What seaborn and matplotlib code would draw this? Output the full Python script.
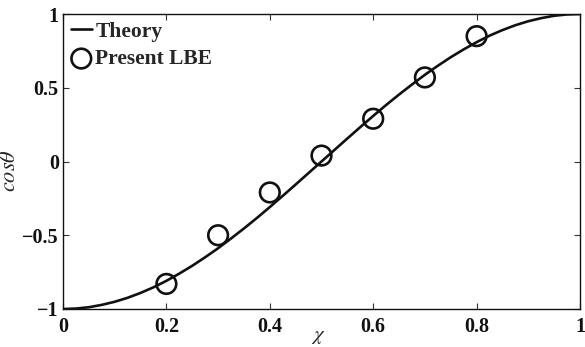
import matplotlib
matplotlib.use("Agg")
import matplotlib.pyplot as plt
import seaborn as sns
import pandas as pd

# Theoretical contact-angle curve
chi_theory = [0.000, 0.025, 0.050, 0.075, 0.100, 0.125, 0.150, 0.175, 0.200, 0.225,
              0.250, 0.275, 0.300, 0.325, 0.350, 0.375, 0.400, 0.425, 0.450, 0.475,
              0.500, 0.525, 0.550, 0.575, 0.600, 0.625, 0.650, 0.675, 0.700, 0.725,
              0.750, 0.775, 0.800, 0.825, 0.850, 0.875, 0.900, 0.925, 0.950, 0.975, 1.000]
cos_theory = [-1.000, -0.997, -0.988, -0.972, -0.951, -0.924, -0.891, -0.853, -0.809, -0.760,
              -0.707, -0.649, -0.588, -0.522, -0.454, -0.383, -0.309, -0.233, -0.156, -0.078,
              0.000, 0.078, 0.156, 0.233, 0.309, 0.383, 0.454, 0.522, 0.588, 0.649,
              0.707, 0.760, 0.809, 0.853, 0.891, 0.924, 0.951, 0.972, 0.988, 0.997, 1.000]

# Simulation results
chi_lbe = [0.2, 0.3, 0.4, 0.5, 0.6, 0.7, 0.8]
cos_lbe = [-0.83, -0.50, -0.21, 0.04, 0.29, 0.57, 0.85]

x_ticks = [0, 0.2, 0.4, 0.6, 0.8, 1]
x_ticklabels = ["0", "0.2", "0.4", "0.6", "0.8", "1"]
y_ticks = [-1, -0.5, 0, 0.5, 1]
y_ticklabels = ["\u22121", "\u22120.5", "0", "0.5", "1"]

sns.set_style("ticks")
plt.rcParams["font.family"] = ["Liberation Serif", "DejaVu Serif"]
plt.rcParams["mathtext.fontset"] = "stix"

theory = pd.DataFrame({"chi": chi_theory, "cos": cos_theory})
lbe = pd.DataFrame({"chi": chi_lbe, "cos": cos_lbe})

fig = plt.figure(figsize=(5.85, 3.47), dpi=100)
ax = fig.add_axes([63 / 585, 1 - 309 / 347, (580 - 63) / 585, (309 - 14) / 347])

sns.lineplot(data=theory, x="chi", y="cos", ax=ax, color="#111111", linewidth=1.9,
             label="Theory")
sns.scatterplot(data=lbe, x="chi", y="cos", ax=ax, marker="o", s=200,
                facecolors="none", edgecolor="#111111", linewidth=1.9,
                label="Present LBE", zorder=3)

ax.set_xlim(0, 1)
ax.set_ylim(-1, 1)
ax.set_xticks(x_ticks)
ax.set_xticklabels(x_ticklabels)
ax.set_yticks(y_ticks)
ax.set_yticklabels(y_ticklabels)
ax.tick_params(axis="both", direction="in", length=4, width=0.8, top=True, right=True,
               labelsize=14.5, color="#333333", labelcolor="#111111")
ax.tick_params(axis="x", pad=6)
ax.tick_params(axis="y", pad=3)
for lab in ax.get_xticklabels() + ax.get_yticklabels():
    lab.set_fontweight("bold")
for sp in ax.spines.values():
    sp.set_linewidth(1.0)
    sp.set_color("#111111")

ax.set_xlabel(r"$\chi$", fontsize=15)
ax.xaxis.set_label_coords(0.493, -0.062)
ax.set_ylabel(r"$cos\theta$", fontsize=16)
ax.yaxis.set_label_coords(-0.083, 0.47)

ax.legend(loc="upper left", frameon=False, handlelength=1.0,
          handletextpad=0.15, borderaxespad=0.15, labelspacing=0.35,
          borderpad=0.2, prop={"weight": "bold", "size": 15.5})

fig.savefig("out.png", dpi=100)
